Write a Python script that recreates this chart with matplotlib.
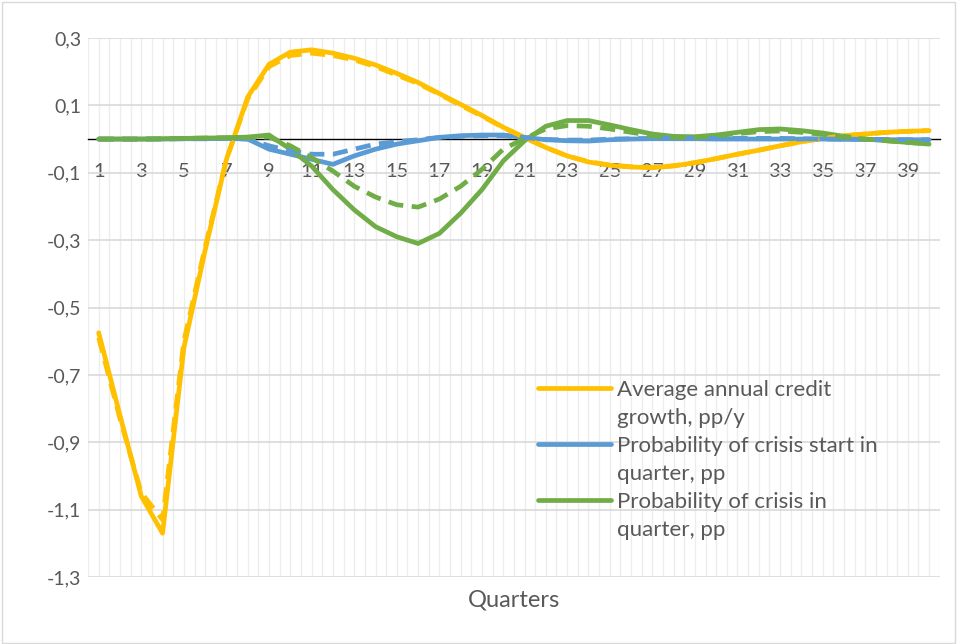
import numpy as np
import matplotlib.pyplot as plt
from matplotlib.lines import Line2D
from matplotlib.patches import Rectangle

plt.rcParams['font.family'] = ['Lato', 'DejaVu Sans']

quarters = np.arange(1, 41)

credit_growth = [-0.575, -0.82, -1.06, -1.17, -0.62, -0.33, -0.06, 0.125, 0.222, 0.258,
                 0.265, 0.255, 0.24, 0.22, 0.195, 0.168, 0.135, 0.103, 0.07, 0.035,
                 0.005, -0.025, -0.05, -0.068, -0.078, -0.083, -0.085, -0.08, -0.07, -0.058,
                 -0.045, -0.033, -0.02, -0.008, 0.002, 0.01, 0.015, 0.02, 0.023, 0.025]
credit_growth_alt = [-0.59, -0.83, -1.05, -1.13, -0.6, -0.32, -0.06, 0.12, 0.215, 0.248,
                     0.255, 0.248, 0.235, 0.215, 0.19, 0.165, 0.133, 0.1, 0.068, 0.034,
                     0.004, -0.025, -0.05, -0.067, -0.077, -0.082, -0.084, -0.079, -0.07, -0.058,
                     -0.045, -0.033, -0.02, -0.008, 0.002, 0.01, 0.015, 0.02, 0.023, 0.025]

crisis_start = [0.0, 0.0, 0.0, 0.0, 0.001, 0.001, 0.002, 0.0, -0.03, -0.045,
                -0.06, -0.075, -0.05, -0.03, -0.015, -0.005, 0.005, 0.01, 0.012, 0.012,
                0.005, -0.002, -0.005, -0.006, -0.002, 0.0, 0.001, 0.001, 0.001, 0.0,
                0.0, 0.0, 0.0, 0.0, 0.0, -0.001, -0.001, -0.002, -0.002, -0.002]
crisis_start_alt = [0.0, 0.0, 0.0, 0.0, 0.001, 0.001, 0.002, 0.0, -0.02, -0.035,
                    -0.045, -0.045, -0.03, -0.015, -0.008, -0.002, 0.005, 0.008, 0.01, 0.01,
                    0.004, -0.001, -0.003, -0.003, 0.0, 0.001, 0.002, 0.003, 0.003, 0.002,
                    0.002, 0.002, 0.002, 0.001, 0.0, 0.0, -0.001, -0.001, -0.002, -0.002]

crisis_prob = [0.0, 0.0, 0.0, 0.001, 0.002, 0.003, 0.004, 0.006, 0.012, -0.03,
               -0.08, -0.15, -0.21, -0.26, -0.29, -0.31, -0.28, -0.22, -0.15, -0.065,
               -0.005, 0.038, 0.055, 0.055, 0.042, 0.028, 0.015, 0.008, 0.007, 0.012,
               0.02, 0.028, 0.03, 0.025, 0.018, 0.008, 0.0, -0.005, -0.01, -0.015]
crisis_prob_alt = [0.0, 0.0, 0.0, 0.001, 0.002, 0.003, 0.004, 0.005, 0.006, -0.02,
                   -0.055, -0.095, -0.14, -0.172, -0.195, -0.202, -0.178, -0.14, -0.09, -0.03,
                   0.002, 0.03, 0.04, 0.038, 0.03, 0.02, 0.01, 0.005, 0.005, 0.01,
                   0.016, 0.022, 0.024, 0.02, 0.014, 0.006, 0.0, -0.005, -0.01, -0.014]

labels = ['Average annual credit\ngrowth, pp/y',
          'Probability of crisis start in\nquarter, pp',
          'Probability of crisis in\nquarter, pp']
colors = ['#FFC000', '#5B9BD5', '#70AD47']
text_color = '#595959'

fig = plt.figure(figsize=(9.57, 6.44), dpi=100)
ax = fig.add_axes([0.092, 0.104, 0.890, 0.837])

solid = [credit_growth, crisis_start, crisis_prob]
dashed = [credit_growth_alt, crisis_start_alt, crisis_prob_alt]
for vals, c in zip(solid, colors):
    ax.plot(quarters, vals, color=c, lw=3.4, solid_capstyle='round', zorder=3)
for vals, c in zip(dashed, colors):
    ax.plot(quarters, vals, color=c, lw=3.4, dashes=(3.2, 1.8), zorder=3)

ax.set_xlim(0.5, 40.5)
ax.set_ylim(-1.3, 0.3)

yticks = np.arange(-1.3, 0.31, 0.2)
ax.set_yticks(yticks)
ax.set_yticklabels([f'{v:.1f}'.replace('.', ',') for v in yticks])
ax.set_xticks(quarters[::2])
ax.set_xticks(np.arange(0.5, 40.6, 0.5), minor=True)

ax.grid(axis='y', color='#D9D9D9', lw=1.2, zorder=0)
ax.grid(axis='x', which='both', color='#EDEDED', lw=1, zorder=0)
ax.set_axisbelow(True)

for s in ['left', 'right', 'top']:
    ax.spines[s].set_visible(False)
ax.spines['bottom'].set_position(('data', 0))
ax.spines['bottom'].set_color('black')
ax.spines['bottom'].set_linewidth(1)
ax.spines['bottom'].set_zorder(2)

ax.tick_params(axis='x', which='both', length=0, pad=17.5, labelsize=14.5, labelcolor=text_color)
ax.tick_params(axis='y', length=0, pad=5, labelsize=14, labelcolor=text_color)

fig.text(0.537, 0.068, 'Quarters', ha='center', va='center', fontsize=17, color=text_color)

# legend: one entry per text line so the handle sits on the first line
handles, texts = [], []
for lab, c in zip(labels, colors):
    first, second = lab.split('\n')
    handles.append(Line2D([], [], color=c, lw=3.4, solid_capstyle='round'))
    texts.append(first)
    handles.append(Line2D([], [], color='none'))
    texts.append(second)
leg = fig.legend(handles, texts, loc='upper left', bbox_to_anchor=(0.562, 0.41),
                 frameon=False, fontsize=16, handlelength=3.3, handletextpad=0.25,
                 labelspacing=0.36, borderpad=0, borderaxespad=0)
for t in leg.get_texts():
    t.set_color(text_color)

fig.patches.append(Rectangle((0.002, 0.002), 0.996, 0.995, transform=fig.transFigure,
                             fill=False, edgecolor='#D9D9D9', lw=1))

fig.savefig('out.png', dpi=100)
